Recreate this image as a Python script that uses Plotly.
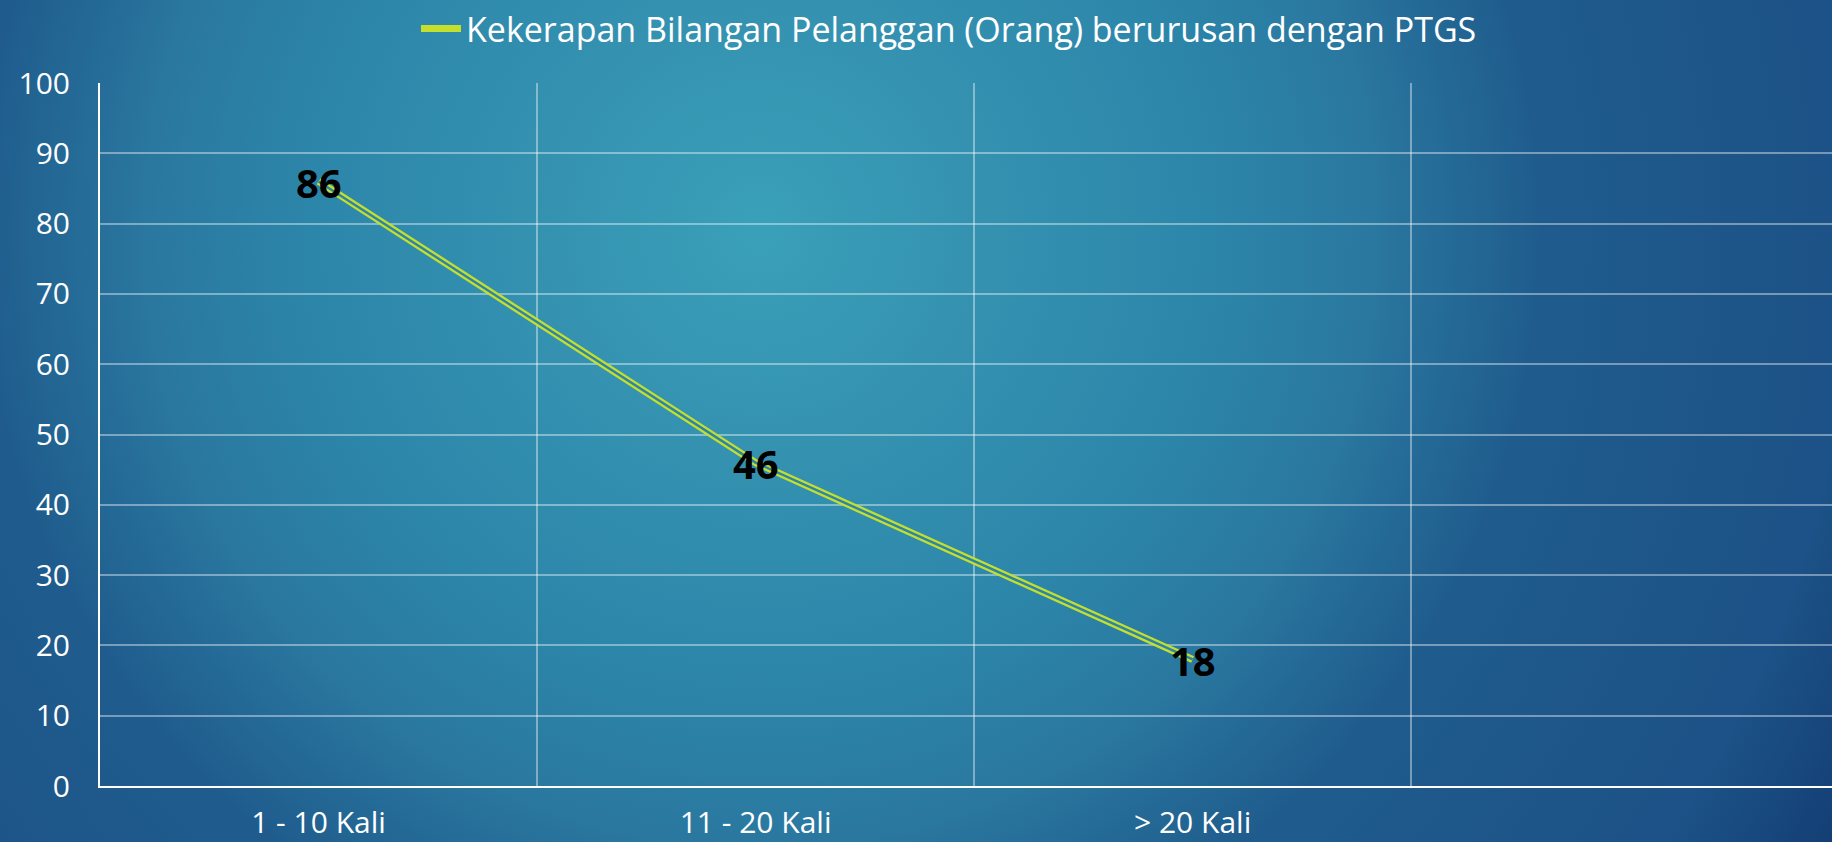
import base64
import plotly.graph_objects as go

# ---- data ----
categories = ["1 - 10 Kali", "11 - 20 Kali", "> 20 Kali"]
values = [86, 46, 18]
y_ticks = [0, 10, 20, 30, 40, 50, 60, 70, 80, 90, 100]
series_name = "Kekerapan Bilangan Pelanggan (Orang) berurusan dengan PTGS"

# ---- layout constants ----
W, H = 1832, 842
PLOT_LEFT, PLOT_TOP, PLOT_BOTTOM = 100, 83, 786
LINE_COLOR = "#c4df2c"
GAP_COLOR = "#2d84a8"
GRID_COLOR = "rgba(255,255,255,0.4)"
FONT = "Open Sans"

svg = f'''<svg xmlns="http://www.w3.org/2000/svg" width="{W}" height="{H}" viewBox="0 0 {W} {H}" preserveAspectRatio="none">
<defs><radialGradient id="g" gradientUnits="userSpaceOnUse" cx="760" cy="230" r="1240">
<stop offset="0" stop-color="#3aa0b9"/>
<stop offset="0.19" stop-color="#3491b0"/>
<stop offset="0.36" stop-color="#2c86aa"/>
<stop offset="0.49" stop-color="#2a78a0"/>
<stop offset="0.63" stop-color="#1f5c8d"/>
<stop offset="0.79" stop-color="#1e5588"/>
<stop offset="0.88" stop-color="#1c5287"/>
<stop offset="1" stop-color="#133e74"/>
</radialGradient></defs>
<rect width="{W}" height="{H}" fill="url(#g)"/></svg>'''
bg_src = "data:image/svg+xml;base64," + base64.b64encode(svg.encode()).decode()

fig = go.Figure()
fig.add_trace(go.Scatter(
    x=categories, y=values, mode="lines", name=series_name,
    line=dict(color=LINE_COLOR, width=7), showlegend=True, hoverinfo="skip"))
fig.add_trace(go.Scatter(
    x=categories, y=values, mode="lines", name="gap",
    line=dict(color=GAP_COLOR, width=2.4), showlegend=False, hoverinfo="skip"))

# data labels, placed through the axes' scales
for c, v in zip(categories, values):
    fig.add_annotation(x=c, y=v, xref="x", yref="y", text=str(v), showarrow=False,
                       yshift=-1, font=dict(family=FONT, size=40, color="black", weight="bold"))

fig.update_layout(
    width=W, height=H, autosize=False,
    margin=dict(l=0, r=0, t=0, b=0, pad=0, autoexpand=False),
    paper_bgcolor="#1f5d8f", plot_bgcolor="rgba(0,0,0,0)",
    font=dict(family=FONT, color="white", size=30),
    images=[dict(source=bg_src, xref="paper", yref="paper", x=0, y=1,
                 sizex=1, sizey=1, sizing="stretch", layer="below")],
    legend=dict(orientation="h", x=416 / W, xanchor="left", y=1, yanchor="top",
                bgcolor="rgba(0,0,0,0)", font=dict(size=34, color="white", family=FONT),
                itemwidth=40),
    xaxis=dict(type="category", categoryorder="array", categoryarray=categories,
               domain=[PLOT_LEFT / W, 1], range=[-0.5, 3.463], automargin=False,
               showgrid=True, gridcolor=GRID_COLOR, gridwidth=2, tickson="boundaries",
               showline=True, linecolor="white", linewidth=2, ticks="",
               ticklabelstandoff=9, tickfont=dict(size=30, color="white"),
               zeroline=False, fixedrange=True),
    yaxis=dict(range=[0, 100], tickvals=y_ticks, automargin=False,
               domain=[(H - PLOT_BOTTOM) / H, (H - PLOT_TOP) / H],
               showgrid=True, gridcolor=GRID_COLOR, gridwidth=2,
               showline=True, linecolor="white", linewidth=2, ticks="",
               ticklabelstandoff=22, tickfont=dict(size=30, color="white"),
               zeroline=False, fixedrange=True),
)

fig.write_html("out.html")
